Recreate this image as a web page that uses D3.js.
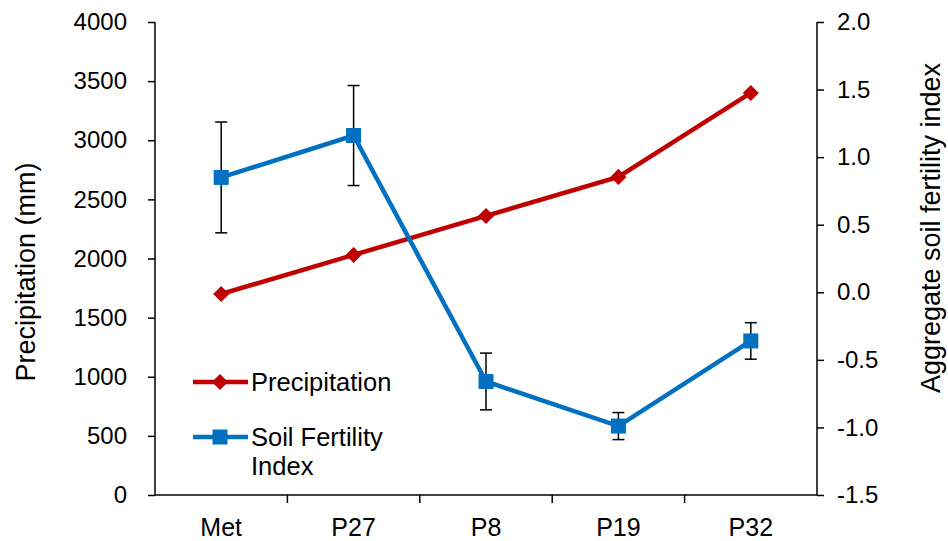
<!DOCTYPE html>
<html>
<head>
<meta charset="utf-8">
<script src="https://cdn.jsdelivr.net/npm/d3@7"></script>
<style>
    body { margin: 0; background: #fff; }
    svg text { font-family: "Liberation Sans", Arial, sans-serif; fill: #000; }
</style>
</head>
<body>
<svg id="chart" width="948" height="541"></svg>
<script>
const sites = ["Met", "P27", "P8", "P19", "P32"];
const precipitation = [1700, 2030, 2360, 2690, 3400];
const fertility = [0.85, 1.16, -0.66, -0.99, -0.36];
const fertilityErr = [0.41, 0.37, 0.21, 0.10, 0.135];
const leftTicks = [0, 500, 1000, 1500, 2000, 2500, 3000, 3500, 4000];
const rightTicks = [-1.5, -1.0, -0.5, 0.0, 0.5, 1.0, 1.5, 2.0];

const red = "#C00000";
const blue = "#0070C0";

const svg = d3.select("#chart");
const plotLeft = 155, plotRight = 817, plotTop = 22, plotBottom = 495;

const x = d3.scaleBand().domain(sites).range([plotLeft, plotRight]);
const yL = d3.scaleLinear().domain([0, 4000]).range([plotBottom, plotTop]);
const yR = d3.scaleLinear().domain([-1.5, 2.0]).range([plotBottom, plotTop]);

// axes
const gL = svg.append("g")
    .attr("transform", `translate(${plotLeft},0)`)
    .call(d3.axisLeft(yL).tickValues(leftTicks).tickSize(7).tickPadding(21)
        .tickFormat(d3.format("d")));
const gR = svg.append("g")
    .attr("transform", `translate(${plotRight},0)`)
    .call(d3.axisRight(yR).tickValues(rightTicks).tickSize(7).tickPadding(13)
        .tickFormat((d) => d3.format(".1f")(d).replace("\u2212", "-")));
const gX = svg.append("g")
    .attr("transform", `translate(0,${plotBottom})`)
    .call(d3.axisBottom(x).tickSize(0).tickPadding(23));

// x ticks between categories
gX.selectAll(".sep")
    .data(d3.range(1, sites.length))
    .enter()
    .append("line")
    .attr("x1", (i) => plotLeft + x.step() * i)
    .attr("x2", (i) => plotLeft + x.step() * i)
    .attr("y1", 0)
    .attr("y2", 8)
    .attr("stroke", "#000")
    .attr("stroke-width", 1.5);

[gL, gR, gX].forEach((g) => {
    g.selectAll(".domain").attr("stroke", "#000").attr("stroke-width", 1.5);
    g.selectAll(".tick line").attr("stroke", "#000").attr("stroke-width", 1.5);
    g.selectAll(".tick text").style("font-size", "24px").attr("fill", "#000");
});
gX.selectAll(".tick text").style("font-size", "25px");
gL.select(".domain").attr("d", `M0,${plotTop}V${plotBottom}`);
gR.select(".domain").attr("d", `M0,${plotTop}V${plotBottom}`);
gX.select(".domain").attr("d", `M${plotLeft},0H${plotRight}`);

// axis titles
svg.append("text")
    .attr("transform", "translate(35,272) rotate(-90)")
    .attr("text-anchor", "middle")
    .style("font-size", "27px")
    .text("Precipitation (mm)");
svg.append("text")
    .attr("transform", "translate(940,228) rotate(-90)")
    .attr("text-anchor", "middle")
    .style("font-size", "27px")
    .text("Aggregate soil fertility index");

const cx = (d) => x(d) + x.bandwidth() / 2;

// precipitation line
svg.append("path")
    .datum(sites)
    .attr("fill", "none")
    .attr("stroke", red)
    .attr("stroke-width", 4.5)
    .attr("d", d3.line().x(cx).y((d, i) => yL(precipitation[i])));
svg.append("g")
    .selectAll("path")
    .data(sites)
    .enter()
    .append("path")
    .attr("transform", (d, i) => `translate(${cx(d)},${yL(precipitation[i])})`)
    .attr("d", d3.symbol(d3.symbolDiamond2, 165))
    .attr("fill", red);

// error bars
const eb = svg.append("g").attr("stroke", "#000").attr("stroke-width", 1.5);
sites.forEach((s, i) => {
    const yt = yR(fertility[i] + fertilityErr[i]);
    const yb = yR(fertility[i] - fertilityErr[i]);
    eb.append("line").attr("x1", cx(s)).attr("x2", cx(s)).attr("y1", yt).attr("y2", yb);
    eb.append("line").attr("x1", cx(s) - 6).attr("x2", cx(s) + 6).attr("y1", yt).attr("y2", yt);
    eb.append("line").attr("x1", cx(s) - 6).attr("x2", cx(s) + 6).attr("y1", yb).attr("y2", yb);
});

// fertility line
svg.append("path")
    .datum(sites)
    .attr("fill", "none")
    .attr("stroke", blue)
    .attr("stroke-width", 4.5)
    .attr("d", d3.line().x(cx).y((d, i) => yR(fertility[i])));
svg.append("g")
    .selectAll("rect")
    .data(sites)
    .enter()
    .append("rect")
    .attr("x", (d) => cx(d) - 7.5)
    .attr("y", (d, i) => yR(fertility[i]) - 7.5)
    .attr("width", 15)
    .attr("height", 15)
    .attr("fill", blue);

// legend
const legend = svg.append("g");
legend.append("line").attr("x1", 193).attr("x2", 248).attr("y1", 382).attr("y2", 382)
    .attr("stroke", red).attr("stroke-width", 4.5);
legend.append("path").attr("transform", "translate(220,382)")
    .attr("d", d3.symbol(d3.symbolDiamond2, 165)).attr("fill", red);
legend.append("text").attr("x", 251).attr("y", 391).style("font-size", "25.5px").text("Precipitation");

legend.append("line").attr("x1", 193).attr("x2", 248).attr("y1", 437).attr("y2", 437)
    .attr("stroke", blue).attr("stroke-width", 4.5);
legend.append("rect").attr("x", 212.5).attr("y", 429.5).attr("width", 15).attr("height", 15).attr("fill", blue);
legend.append("text").attr("x", 251).attr("y", 446).style("font-size", "25.5px").text("Soil Fertility");
legend.append("text").attr("x", 251).attr("y", 475).style("font-size", "25.5px").text("Index");
</script>
</body>
</html>
